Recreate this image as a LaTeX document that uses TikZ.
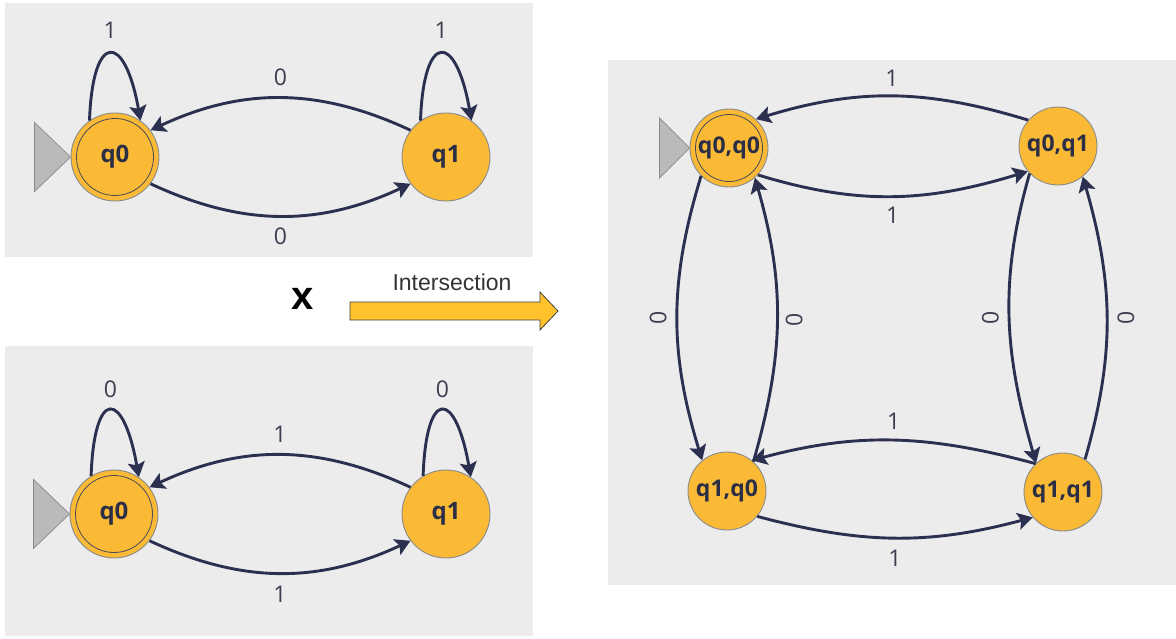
\documentclass[tikz,border=0pt]{standalone}
\usepackage{fontspec}
\setmainfont{Open Sans}
\newfontfamily\arialfont{Liberation Sans}
\usetikzlibrary{arrows.meta}

\definecolor{panelbg}{HTML}{ECECEC}
\definecolor{statefill}{HTML}{FBBA36}
\definecolor{stateline}{HTML}{8A8A8A}
\definecolor{edgecol}{HTML}{2C3050}
\definecolor{statetext}{HTML}{2B2E45}
\definecolor{labelcol}{HTML}{3B3E50}
\definecolor{startfill}{HTML}{BABABA}
\definecolor{bigarrow}{HTML}{FFC22C}

\begin{document}
\begin{tikzpicture}[x=1pt,y=1pt,
  panel/.style={fill=panelbg,draw=none},
  state/.style={circle,fill=statefill,draw=stateline,line width=0.9pt,
    minimum size=88pt,inner sep=0pt,text=statetext,
    font=\bfseries\fontsize{24}{24}\selectfont},
  pstate/.style={state,minimum size=78pt,
    font=\bfseries\fontsize{23}{23}\selectfont},
  ring/.style={draw=statetext!70!stateline,line width=0.8pt},
  startmark/.style={fill=startfill,draw=stateline,line width=0.7pt,line join=miter},
  edge/.style={draw=edgecol,line width=2.9pt,
    -{Stealth[length=15pt,width=17pt,inset=3pt]}},
  lbl/.style={text=labelcol,inner sep=0pt,font=\fontsize{23}{23}\selectfont},
  mid/.style={midway,lbl}
]
\useasboundingbox (0,0) rectangle (1176,-638);
\fill[white] (0,0) rectangle (1176,-638);

% background panels
\fill[panel] (5,-3) rectangle (533,-257);
\fill[panel] (5,-346) rectangle (533,-636);
\fill[panel] (608,-60) rectangle (1176,-585);

% ---------- first automaton ----------
\node[state] (ta) at (115,-157) {q0};
\node[state] (tb) at (446,-157) {q1};
\draw[ring] (ta.center) circle[radius=38.5];
\filldraw[startmark] (ta.west) -- ++(-36,34.5) -- ++(0,-69) -- cycle;

\draw[edge] (ta.125) to[out=88,in=100,distance=90pt]
  node[mid,yshift=23pt] (tl1) {1} (ta.55);
\draw[edge] (tb.125) to[out=88,in=100,distance=90pt]
  node[mid,yshift=23pt] (tl2) {1} (tb.55);
\draw[edge] (tb.143) to[out=155,in=25]
  node[mid,yshift=21pt] (tl3) {0} (ta.37);
\draw[edge] (ta.-37) to[out=-25,in=-155]
  node[mid,yshift=-20pt] (tl4) {0} (tb.-143);

% ---------- second automaton ----------
\node[state] (ba) at (114,-514) {q0};
\node[state] (bb) at (446,-514) {q1};
\draw[ring] (ba.center) circle[radius=38.5];
\filldraw[startmark] (ba.west) -- ++(-36,34.5) -- ++(0,-69) -- cycle;

\draw[edge] (ba.121) to[out=88,in=100,distance=89pt]
  node[mid,yshift=21pt] (bl1) {0} (ba.56);
\draw[edge] (bb.121) to[out=88,in=100,distance=89pt]
  node[mid,yshift=21pt] (bl2) {0} (bb.56);
\draw[edge] (bb.143) to[out=155,in=25]
  node[mid,yshift=21pt] (bl3) {1} (ba.37);
\draw[edge] (ba.-37) to[out=-25,in=-155]
  node[mid,yshift=-21pt] (bl4) {1} (bb.-143);

% ---------- product sign and arrow ----------
\node[font=\arialfont\bfseries\fontsize{40}{40}\selectfont,inner sep=0pt]
  (times) at (303,-299) {x};
\node[font=\arialfont\fontsize{23}{23}\selectfont,text=black!80,inner sep=0pt]
  (optext) at (452,-282) {Intersection};
\filldraw[fill=bigarrow,draw=black!75,line width=0.8pt,line join=miter]
  (350,-302) -- (540,-302) -- (540,-292) -- (558,-311)
  -- (540,-330) -- (540,-320) -- (350,-320) -- cycle;

% ---------- product automaton ----------
\node[pstate] (r00) at (729,-148) {q0,q0};
\node[pstate] (r01) at (1058,-146) {q0,q1};
\node[pstate] (r10) at (727,-491) {q1,q0};
\node[pstate] (r11) at (1063,-492) {q1,q1};
\draw[ring] (r00.center) circle[radius=33.5];
\filldraw[startmark] (r00.west) -- ++(-30,30) -- ++(0,-60) -- cycle;

\draw[edge] (r01.139) to[out=163,in=17]
  node[mid,yshift=18pt] (pl1) {1} (r00.47);
\draw[edge] (r00.-43) to[out=-17,in=-163]
  node[mid,yshift=-19pt] (pl2) {1} (r01.-140);
\draw[edge] (r11.134) to[out=165,in=15]
  node[mid,yshift=19pt] (pl3) {1} (r10.51);
\draw[edge] (r10.-40) to[out=-15,in=-165]
  node[mid,yshift=-20pt] (pl4) {1} (r11.-140);

\draw[edge] (r00.-135) to[out=-107,in=107] coordinate[midway] (m1) (r10.129);
\draw[edge] (r10.48) to[out=74,in=-74] coordinate[midway] (m2) (r00.-49);
\draw[edge] (r01.-136) to[out=-106,in=106] coordinate[midway] (m3) (r11.133);
\draw[edge] (r11.56) to[out=74,in=-74] coordinate[midway] (m4) (r01.-51);
\node[lbl,rotate=90] (pl5) at ([xshift=-19pt]m1) {0};
\node[lbl,rotate=90] (pl6) at ([xshift=17pt]m2) {0};
\node[lbl,rotate=90] (pl7) at ([xshift=-19pt]m3) {0};
\node[lbl,rotate=90] (pl8) at ([xshift=19pt]m4) {0};
\end{tikzpicture}
\end{document}
